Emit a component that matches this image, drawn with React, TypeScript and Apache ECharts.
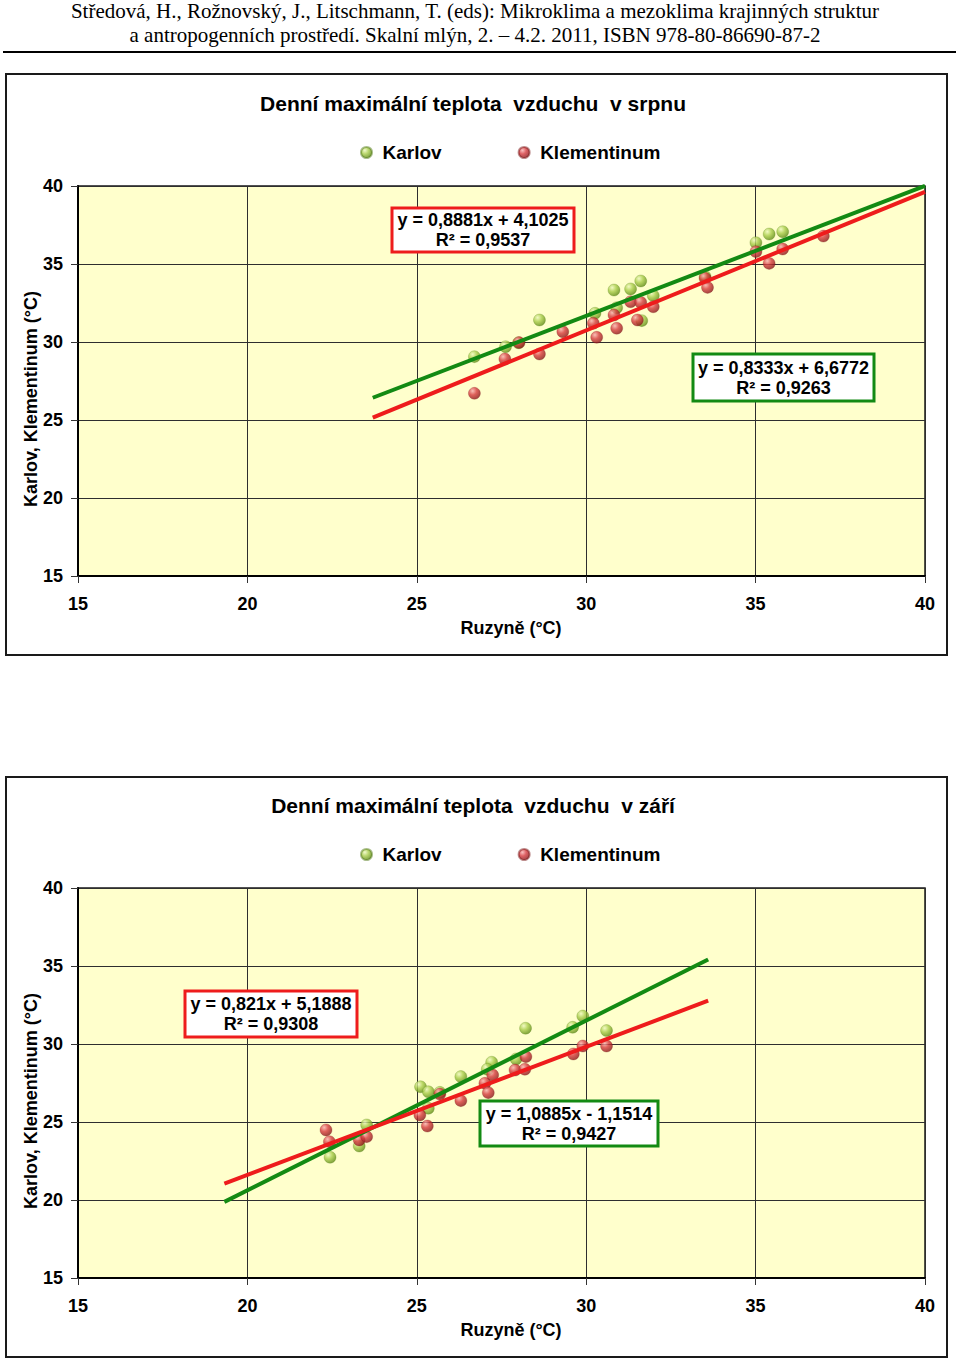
import React, { useEffect, useRef } from "react";
import * as echarts from "echarts";

// ---------- data ----------
const AXIS_MIN = 15;
const AXIS_MAX = 40;
const AXIS_STEP = 5;

const SERIES_NAMES = ["Karlov", "Klementinum"];

// August (srpen): [Ruzyně, station]
const AUG_KARLOV: [number, number][] = [
  [26.7, 29.06], [27.62, 29.7], [28.0, 29.95], [28.62, 31.41], [30.26, 31.84],
  [30.9, 32.2], [30.82, 33.33], [31.31, 33.4], [31.61, 33.91], [31.98, 32.97],
  [31.64, 31.37], [33.51, 34.19], [35.01, 36.37], [35.4, 36.92], [35.8, 37.07],
];
const AUG_KLEMENTINUM: [number, number][] = [
  [26.7, 26.71], [27.6, 28.91], [28.02, 29.96], [28.62, 29.23], [29.31, 30.66],
  [30.21, 31.2], [30.31, 30.3], [30.82, 31.73], [30.9, 30.88], [31.31, 32.58],
  [31.61, 32.54], [31.51, 31.41], [31.98, 32.26], [33.51, 34.08], [33.58, 33.5],
  [35.01, 35.79], [35.4, 35.04], [35.8, 35.96], [37.0, 36.79],
];

// September (září)
const SEP_KARLOV: [number, number][] = [
  [22.44, 22.74], [23.3, 23.46], [23.52, 24.81], [25.11, 27.26], [25.34, 26.94],
  [25.34, 25.88], [25.68, 26.9], [26.3, 27.91], [27.21, 28.83], [27.08, 28.38],
  [27.93, 29.04], [28.21, 31.01], [29.6, 31.07], [29.9, 31.79], [30.6, 30.86],
];
const SEP_KLEMENTINUM: [number, number][] = [
  [22.32, 24.49], [22.42, 23.74], [23.3, 23.85], [23.52, 24.06], [25.09, 25.45],
  [25.31, 24.74], [25.68, 26.79], [26.3, 26.37], [27.01, 27.48], [27.11, 26.88],
  [27.24, 28.01], [27.9, 28.33], [28.19, 28.38], [28.22, 29.19], [29.62, 29.36],
  [29.9, 29.87], [30.6, 29.87],
];

// trendline coefficients [Karlov, Klementinum]
const AUG_SLOPE = [0.8333, 0.8881];
const AUG_INTERCEPT = [6.6772, 4.1025];
const AUG_R2 = [0.9263, 0.9537];
const SEP_SLOPE = [1.0885, 0.821];
const SEP_INTERCEPT = [-1.1514, 5.1888];
const SEP_R2 = [0.9427, 0.9308];
const FORECAST = 3; // trendline forecast forward/backward

const HEADER_LINES = [
  "Středová, H., Rožnovský, J., Litschmann, T. (eds): Mikroklima a mezoklima krajinných struktur",
  "a antropogenních prostředí. Skalní mlýn, 2. – 4.2. 2011, ISBN 978-80-86690-87-2",
];
const TITLES = [
  "Denní maximální teplota  vzduchu  v srpnu",
  "Denní maximální teplota  vzduchu  v září",
];
const X_NAME = "Ruzyně (°C)";
const Y_NAME = "Karlov, Klementinum (°C)";

// ---------- helpers ----------
const FONT = '"Liberation Sans", Arial, sans-serif';
const GREEN = "#138A13";
const RED = "#EE1C1C";

const fmt = (v: number) => String(Math.abs(v)).replace(".", ",");
const eqText = (s: number, b: number, r2: number) =>
  `y = ${fmt(s)}x ${b < 0 ? "-" : "+"} ${fmt(b)}\nR² = ${fmt(r2)}`;

const greenBall = () =>
  new echarts.graphic.RadialGradient(0.35, 0.3, 0.75, [
    { offset: 0, color: "#EEF8C0" },
    { offset: 0.45, color: "#A8CC4A" },
    { offset: 1, color: "#5A8612" },
  ]);
const redBall = () =>
  new echarts.graphic.RadialGradient(0.35, 0.3, 0.75, [
    { offset: 0, color: "#F7B0B0" },
    { offset: 0.45, color: "#D63A3E" },
    { offset: 1, color: "#861418" },
  ]);

function trendData(slope: number, intercept: number, all: [number, number][]) {
  const xs = all.map((p) => p[0]);
  const x0 = Math.min(...xs) - FORECAST;
  const x1 = Math.max(...xs) + FORECAST;
  return [
    [x0, slope * x0 + intercept],
    [x1, slope * x1 + intercept],
  ];
}

const GRID_TOPS = [186, 888];

function axisCommon(gridIndex: number) {
  return {
    gridIndex,
    type: "value" as const,
    min: AXIS_MIN,
    max: AXIS_MAX,
    interval: AXIS_STEP,
    axisLine: { show: true, onZero: false, lineStyle: { color: "#000", width: 2 } },
    axisTick: { show: true, length: 7, lineStyle: { color: "#333", width: 1 } },
    splitLine: { show: true, lineStyle: { color: "#2e2e2e", width: 1 } },
    axisLabel: { color: "#000", fontFamily: FONT, fontWeight: "bold" as const, fontSize: 18 },
  };
}

export default function App() {
  const ref = useRef<HTMLDivElement>(null);

  useEffect(() => {
    if (!ref.current) return;
    const chart = echarts.init(ref.current, undefined, { renderer: "svg" });

    const charts = [
      { karlov: AUG_KARLOV, klem: AUG_KLEMENTINUM, slope: AUG_SLOPE, icpt: AUG_INTERCEPT, r2: AUG_R2 },
      { karlov: SEP_KARLOV, klem: SEP_KLEMENTINUM, slope: SEP_SLOPE, icpt: SEP_INTERCEPT, r2: SEP_R2 },
    ];

    const series: any[] = [];
    charts.forEach((c, i) => {
      const all = [...c.karlov, ...c.klem];
      series.push({
        name: SERIES_NAMES[0], type: "scatter", xAxisIndex: i, yAxisIndex: i,
        data: c.karlov, symbolSize: 12, z: 2,
        itemStyle: { color: greenBall(), borderColor: "rgba(80,120,20,0.6)", borderWidth: 0.5 },
      });
      series.push({
        name: SERIES_NAMES[1], type: "scatter", xAxisIndex: i, yAxisIndex: i,
        data: c.klem, symbolSize: 12, z: 2,
        itemStyle: { color: redBall(), borderColor: "rgba(120,20,20,0.6)", borderWidth: 0.5 },
      });
      series.push({
        name: SERIES_NAMES[0] + " trend", type: "line", xAxisIndex: i, yAxisIndex: i,
        data: trendData(c.slope[0], c.icpt[0], all), showSymbol: false, symbol: "none",
        lineStyle: { color: GREEN, width: 4 }, z: 4,
      });
      series.push({
        name: SERIES_NAMES[1] + " trend", type: "line", xAxisIndex: i, yAxisIndex: i,
        data: trendData(c.slope[1], c.icpt[1], all), showSymbol: false, symbol: "none",
        lineStyle: { color: RED, width: 4 }, z: 4,
      });
    });

    const boxes = [
      { c: 0, s: 1, x: 392, y: 208, w: 182, h: 44, color: RED },
      { c: 0, s: 0, x: 693, y: 354, w: 181, h: 47, color: GREEN },
      { c: 1, s: 1, x: 185, y: 991, w: 172, h: 46, color: RED },
      { c: 1, s: 0, x: 480, y: 1101, w: 178, h: 45, color: GREEN },
    ];

    const graphic: any[] = [
      ...HEADER_LINES.map((t, i) => ({
        type: "text", x: 475, y: 11 + i * 24, z: 10,
        style: { text: t, font: '21px "Liberation Serif", "Times New Roman", serif', fill: "#000", align: "center", verticalAlign: "middle" },
      })),
      { type: "line", shape: { x1: 3, y1: 52, x2: 956, y2: 52 }, style: { stroke: "#000", lineWidth: 2 } },
      ...[74, 777].map((y, i) => ({
        type: "rect", shape: { x: 6, y, width: 941, height: i === 0 ? 581 : 580 },
        style: { fill: "none", stroke: "#1a1a1a", lineWidth: 2 },
      })),
      ...TITLES.map((t, i) => ({
        type: "text", x: 473, y: i === 0 ? 103 : 805, z: 10,
        style: { text: t, font: `bold 21px ${FONT}`, fill: "#000", align: "center", verticalAlign: "middle" },
      })),
      ...GRID_TOPS.map((top) => ({
        type: "text", x: 31, y: top + 213, rotation: Math.PI / 2, z: 10,
        style: { text: Y_NAME, font: `bold 18px ${FONT}`, fill: "#000", align: "center", verticalAlign: "middle" },
      })),
      ...GRID_TOPS.map((top) => ({
        type: "text", x: 511, y: top + 442, z: 10,
        style: { text: X_NAME, font: `bold 18px ${FONT}`, fill: "#000", align: "center", verticalAlign: "middle" },
      })),
      ...boxes.map((b) => {
        const c = charts[b.c];
        return {
          type: "group", z: 100,
          children: [
            { type: "rect", z: 100, shape: { x: b.x, y: b.y, width: b.w, height: b.h }, style: { fill: "#fff", stroke: b.color, lineWidth: 3 } },
            {
              type: "text", z: 101, x: b.x + b.w / 2, y: b.y + b.h / 2,
              style: {
                text: eqText(c.slope[b.s], c.icpt[b.s], c.r2[b.s]),
                font: `bold 18px ${FONT}`, lineHeight: 20, fill: "#000", align: "center", verticalAlign: "middle",
              },
            },
          ],
        };
      }),
    ];

    chart.setOption({
      animation: false,
      backgroundColor: "#fff",
      grid: GRID_TOPS.map((top) => ({
        left: 78, top, width: 847, height: 390, show: true,
        backgroundColor: "#FFFFCC", borderColor: "#1a1a1a", borderWidth: 1.5,
      })),
      legend: GRID_TOPS.map((top) => ({
        data: SERIES_NAMES,
        left: 355, top: top - 48, icon: "circle", itemWidth: 22, itemHeight: 11, itemGap: 76,
        selectedMode: false,
        textStyle: { color: "#000", fontFamily: FONT, fontWeight: "bold", fontSize: 19 },
      })),
      xAxis: [0, 1].map((i) => ({
        ...axisCommon(i), position: "bottom",
        axisLabel: { ...axisCommon(i).axisLabel, margin: 19 },
      })),
      yAxis: [0, 1].map((i) => ({
        ...axisCommon(i), position: "left",
        axisLabel: { ...axisCommon(i).axisLabel, margin: 15 },
      })),
      series,
      graphic,
    });

    return () => chart.dispose();
  }, []);

  return <div ref={ref} style={{ position: "absolute", left: 0, top: 0, width: 960, height: 1362 }} />;
}
